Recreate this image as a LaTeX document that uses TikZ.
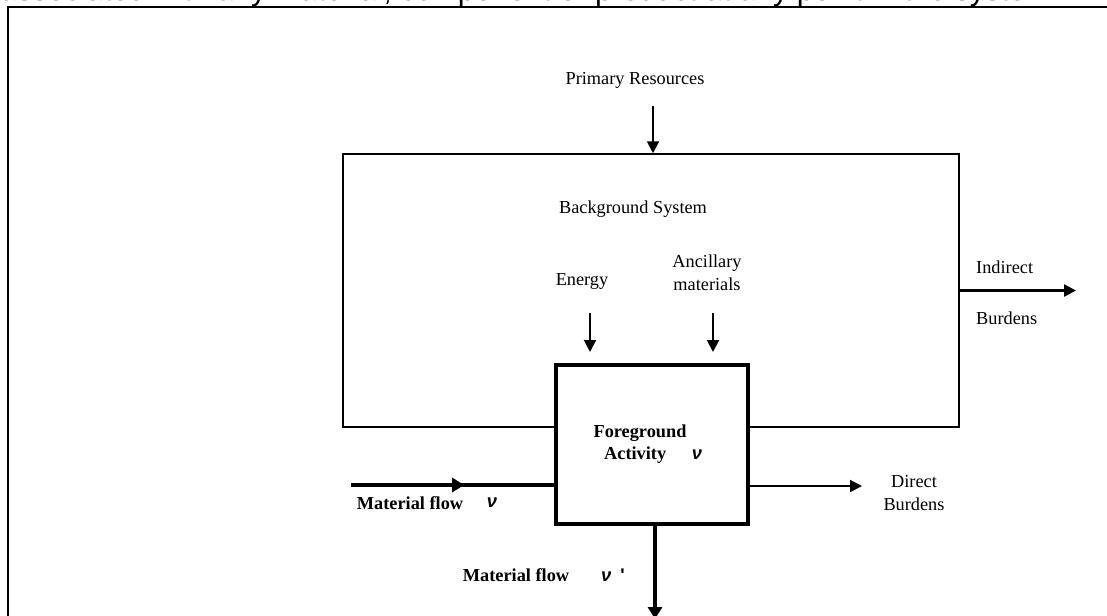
\documentclass[tikz,border=0pt]{standalone}
\usepackage{fontspec}
\setmainfont{Liberation Serif}
\newfontfamily\capfont{Liberation Sans}
\newfontfamily\greekfont{Liberation Sans}
\usetikzlibrary{
    arrows.meta,
    decorations.markings
}
\newcommand{\flownu}{{\greekfont\bfseries\itshape ν}}

\begin{document}
\begin{tikzpicture}[x=1pt,y=-1pt,
    every node/.style={font=\fontsize{18.3}{23}\selectfont,inner sep=0pt,align=center},
    thinarrow/.style={line width=2pt,-{Triangle[length=12pt,width=12pt]}},
    burdenarrow/.style={line width=2.5pt,-{Triangle[length=12pt,width=12pt]}},
    mainflow/.style={line width=4pt,decoration={markings,
        mark=at position 0.552 with {\arrow{Triangle[length=12pt,width=14pt]}}},
        postaction={decorate}},
    outflow/.style={line width=4pt,-{Triangle[length=12pt,width=14pt]}},
    flowlabel/.style={font=\fontsize{18.3}{23}\selectfont\bfseries}
]
\useasboundingbox (0,0) rectangle (1107,615);

% Page frame and cut caption line
\draw[line width=2pt] (8,625) -- (8,7) -- (1115,7);
\node[anchor=base west,font=\capfont\fontsize{30.5}{32}\selectfont] (caption) at (0,1)
    {associated with any material, component or product at any point in the system.};

% Background system
\node[draw,line width=1.5pt,minimum width=616pt,minimum height=273pt] (bg) at (651,290.5) {};
\node (bglabel) at (633,209) {Background System};

% Primary resources
\node (primary) at (635,80) {Primary Resources};
\coordinate (prtop) at (653,106);
\draw[thinarrow] (prtop) -- (prtop |- bg.north);

% Energy and ancillary materials
\node (energy) at (582,281) {Energy};
\coordinate (entop) at (590,313);
\coordinate (enend) at (590,352);
\draw[thinarrow] (entop) -- (enend);

\node (ancillary) at (707,273) {Ancillary\\materials};
\coordinate (antop) at (713,313);
\coordinate (anend) at (713,352);
\draw[thinarrow] (antop) -- (anend);

% Indirect burdens
\coordinate (indend) at (1076,290.5);
\draw[burdenarrow] (bg.east) -- (indend);
\node[anchor=west] (indirect) at (976,267) {Indirect};
\node[anchor=west] (indburdens) at (976,318) {Burdens};

% Material flow in
\coordinate (mfstart) at (351,485);
\draw[mainflow] (mfstart) -- (556,485);
\node[flowlabel] (mfin) at (410,503) {Material flow};
\node (mfinnu) at (492,503) {\flownu};

% Foreground activity
\node[draw,line width=4pt,fill=white,minimum width=192pt,minimum height=159pt] (fg) at (652,444.5) {};
\node[flowlabel] (fgtop) at (640,433) {Foreground};
\node[flowlabel,anchor=west] (fgact) at (604,455) {Activity};
\node (fgnu) at (697,455) {\flownu};

% Direct burdens
\coordinate (dirend) at (862,486);
\draw[thinarrow] (fg.east |- dirend) -- (dirend);
\node (direct) at (914,493) {Direct\\Burdens};

% Material flow out
\coordinate (mfend) at (655,619);
\draw[outflow] (fg.south -| mfend) -- (mfend);
\node[flowlabel] (mfout) at (516,575) {Material flow};
\node[anchor=west] (mfoutnu) at (601,575) {\flownu\hspace{9pt}{\greekfont\bfseries\textquotesingle}};

\end{tikzpicture}
\end{document}
